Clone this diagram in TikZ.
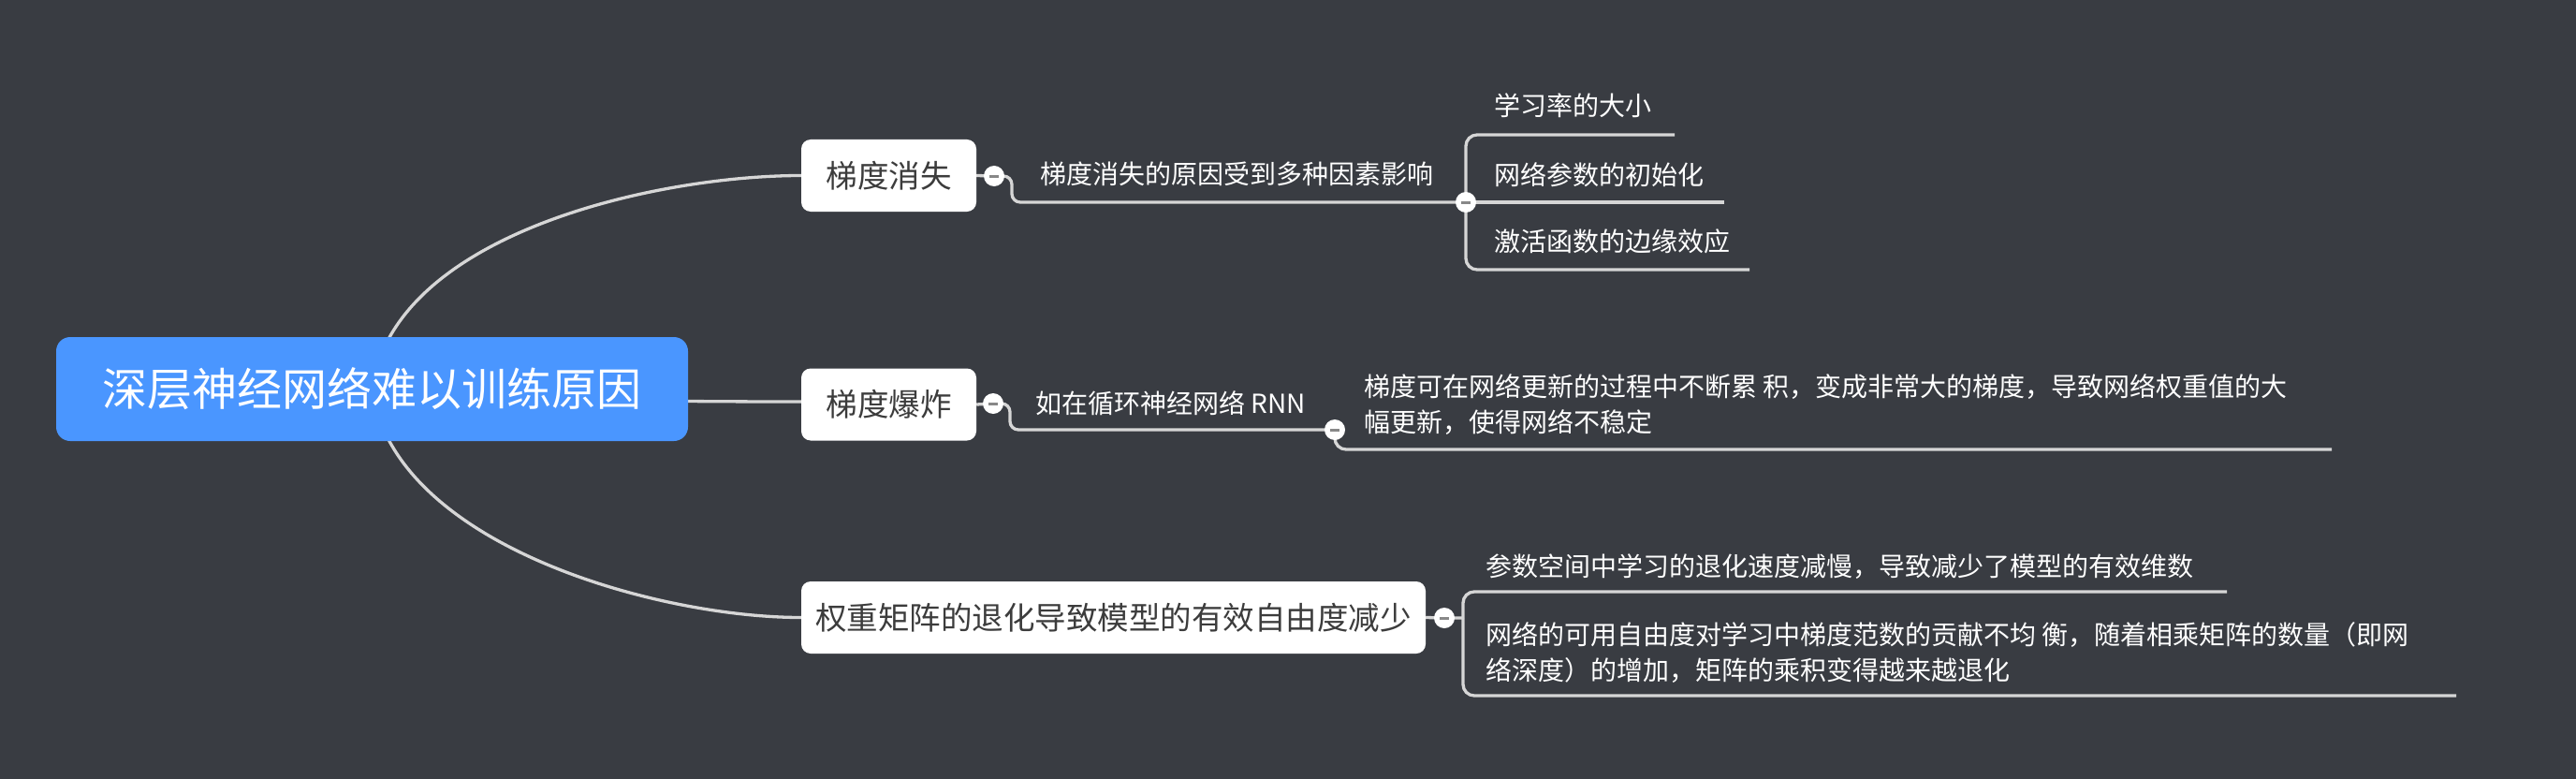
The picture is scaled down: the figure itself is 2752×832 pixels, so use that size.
\documentclass[tikz,border=0pt]{standalone}
\usepackage{fontspec}
\setmainfont{Noto Sans CJK SC}
\usetikzlibrary{backgrounds}
\definecolor{bg}{RGB}{57,60,66}
\definecolor{rootblue}{RGB}{74,150,255}
\definecolor{linec}{RGB}{214,214,214}
\definecolor{boxtext}{RGB}{60,60,60}
\definecolor{minusc}{RGB}{136,136,136}
\begin{document}
\begin{tikzpicture}[x=1pt,y=-1pt,
  conn/.style={draw=linec,line width=3.3pt},
  elbow/.style={conn,rounded corners=12pt},
  rootbox/.style={fill=rootblue,rounded corners=15pt,minimum width=675pt,minimum height=111pt,inner sep=0pt,text=white,font=\fontsize{48}{58}\selectfont},
  topicbox/.style={fill=white,rounded corners=10pt,minimum height=77pt,inner sep=0pt,text=boxtext,font=\fontsize{33.5}{40}\selectfont},
  subtext/.style={anchor=west,inner sep=0pt,text=white,font=\fontsize{28}{38}\selectfont,align=left},
  cbtn/.style={circle,fill=white,minimum size=22pt,inner sep=0pt,
    path picture={\draw[minusc,line width=3pt] ([xshift=-5pt]path picture bounding box.center) -- ([xshift=5pt]path picture bounding box.center);}}
]
\useasboundingbox (0,0) rectangle (2752,832);

% nodes
\node[rootbox] (root) at (397.5,415.5) {深层神经网络难以训练原因};
\node[topicbox,minimum width=187pt] (b1) at (949.5,187.5) {梯度消失};
\node[topicbox,minimum width=187pt] (b2) at (949.5,432) {梯度爆炸};
\node[topicbox,minimum width=667pt] (b3) at (1189.5,659.5) {权重矩阵的退化导致模型的有效自由度减少};

\node[cbtn] (c1a) at (1062,188) {};
\node[cbtn] (c1b) at (1566,216) {};
\node[cbtn] (c2a) at (1061,431) {};
\node[cbtn] (c2b) at (1426,459) {};
\node[cbtn] (c3) at (1543,660) {};

\node[subtext] (s1) at (1111,186) {梯度消失的原因受到多种因素影响};
\node[subtext] (t1a) at (1596,113) {学习率的大小};
\node[subtext] (t1b) at (1596,187) {网络参数的初始化};
\node[subtext] (t1c) at (1596,258) {激活函数的边缘效应};
\node[subtext] (s2) at (1106,431) {如在循环神经网络 RNN};
\node[subtext] (t2) at (1457,432.5) {梯度可在网络更新的过程中不断累 积，变成非常大的梯度，导致网络权重值的大\\幅更新，使得网络不稳定};
\node[subtext] (t3a) at (1587,605) {参数空间中学习的退化速度减慢，导致减少了模型的有效维数};
\node[subtext] (t3b) at (1587,697) {网络的可用自由度对学习中梯度范数的贡献不均 衡，随着相乘矩阵的数量（即网\\络深度）的增加，矩阵的乘积变得越来越退化};

% underline ends and junctions
\coordinate (u1a) at (1789,144);
\coordinate (u1b) at (1842,216);
\coordinate (u1c) at (1869,288);
\coordinate (u2) at (2491,480);
\coordinate (j3) at (1563,660);
\coordinate (u3a) at (2379,632);
\coordinate (u3b) at (2624,743);

\begin{scope}[on background layer]
  \fill[bg] (0,0) rectangle (2752,832);
  % root curves
  \draw[conn] (root.center) .. controls (420,250) and (700,187.5) .. (b1.west);
  \draw[conn] (root.center) .. controls (466,424) and (619,429) .. ([yshift=3pt]b2.west);
  \draw[conn] (root.center) .. controls (420,581) and (700,659.5) .. (b3.west);
  % branch 1
  \draw[conn] (b1.east) -- (c1a.center);
  \draw[conn,rounded corners=9pt] (c1a.center) -- ++(19,0) |- (c1b.center);
  \draw[elbow] (c1b.center) |- (u1a);
  \draw[conn] (c1b.center) -- (u1b);
  \draw[elbow] (c1b.center) |- (u1c);
  % branch 2
  \draw[conn] (b2.east) -- (c2a.center);
  \draw[conn,rounded corners=9pt] (c2a.center) -- ++(18,0) |- (c2b.center);
  \draw[elbow] (c2b.center) |- (u2);
  % branch 3
  \draw[conn] (b3.east) -- (c3.center) -- (j3);
  \draw[elbow] (j3) |- (u3a);
  \draw[elbow] (j3) |- (u3b);
\end{scope}
\end{tikzpicture}
\end{document}
